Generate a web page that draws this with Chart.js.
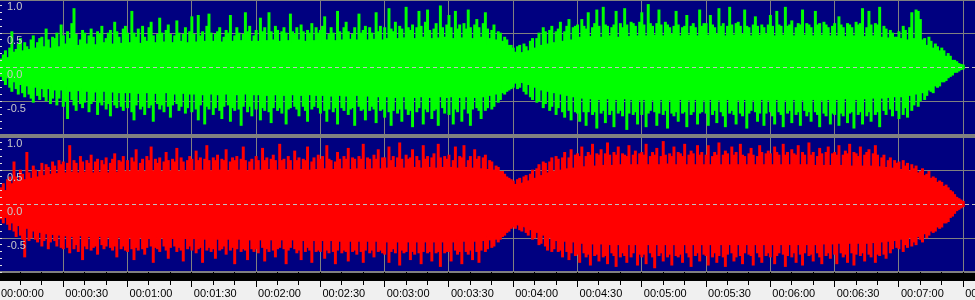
<!DOCTYPE html>
<html>
<head>
<meta charset="utf-8">
<script src="https://cdn.jsdelivr.net/npm/chart.js@4.4.1/dist/chart.umd.min.js"></script>
<style>
  html, body { margin: 0; padding: 0; background: #808080; overflow: hidden; }
  body { position: relative; width: 975px; height: 300px; }
  canvas { position: absolute; left: -1px; }
  #top { top: -1px; }
  #bottom { top: 136px; background: #f0f0f0; }
  #sep { position: absolute; left: 0; top: 134px; width: 975px; height: 4px; background: #808080; }
</style>
</head>
<body>
<canvas id="top" width="976" height="136"></canvas>
<canvas id="bottom" width="976" height="164"></canvas>
<div id="sep"></div>
<script>
const timeLabels = ["00:00:00", "00:00:30", "00:01:00", "00:01:30", "00:02:00", "00:02:30", "00:03:00", "00:03:30",
    "00:04:00", "00:04:30", "00:05:00", "00:05:30", "00:06:00", "00:06:30", "00:07:00", "00:07:30"];
const levelValues = [1, 0.5, 0, -0.5];
const levelLabels = ["1.0", "0.5", "0.0", "-0.5"];

const coreStep = 10; // seconds between envelope readings
const peakStep = 1;  // seconds between peak readings

// solid body of each channel, % of full scale, every 10 s
const greenCoreHi = [3, 17, 23, 27, 29, 31, 31, 33, 31, 33, 33, 35, 35, 35, 35, 35, 37, 37, 39, 39, 39, 39, 37, 31, 18,
    25, 33, 37, 41, 41, 43, 43, 41, 41, 43, 43, 43, 41, 41, 41, 39, 37, 37, 28, 15, 2];
const greenCoreLo = [3, 19, 25, 29, 31, 33, 33, 35, 35, 35, 35, 37, 37, 37, 37, 37, 39, 39, 41, 41, 41, 41, 39, 33, 20,
    27, 35, 39, 43, 43, 45, 45, 43, 43, 45, 45, 45, 43, 43, 43, 41, 39, 37, 28, 15, 2];
const redCoreHi = [12, 31, 36, 40, 42, 44, 46, 46, 46, 48, 48, 48, 48, 48, 48, 50, 50, 50, 52, 52, 52, 52, 50, 44, 27,
    36, 46, 50, 54, 54, 56, 56, 54, 54, 56, 56, 56, 54, 54, 54, 52, 50, 44, 36, 22, 3];
const redCoreLo = [12, 32, 38, 42, 44, 46, 46, 48, 48, 48, 50, 50, 50, 50, 50, 50, 52, 52, 52, 54, 54, 52, 50, 46, 29,
    38, 48, 52, 54, 56, 56, 56, 56, 54, 56, 56, 56, 56, 54, 54, 52, 50, 46, 36, 22, 3];

// peak above / below zero for each second, % of full scale (one line = 30 s)
const greenPeakHi = [
    6, 12, 18, 24, 14, 28, 52, 22, 26, 34, 42, 24, 36, 30, 26, 40, 46, 28, 36, 42, 44, 30, 56, 40, 28, 44, 42, 50, 30, 62,
    46, 34, 52, 42, 64, 86, 48, 32, 40, 54, 50, 34, 46, 56, 44, 33, 52, 48, 60, 36, 42, 50, 54, 34, 66, 52, 44, 35, 56, 60,
    50, 36, 82, 50, 44, 56, 35, 60, 44, 38, 58, 66, 46, 36, 48, 72, 50, 37, 54, 62, 48, 36, 46, 68, 50, 38, 48, 58, 36, 52,
    74, 48, 37, 76, 46, 52, 38, 60, 78, 50, 38, 48, 52, 58, 37, 44, 54, 50, 76, 38, 46, 58, 50, 39, 48, 80, 52, 60, 38, 46,
    54, 38, 72, 52, 58, 39, 80, 52, 40, 60, 54, 38, 52, 58, 50, 39, 78, 52, 48, 58, 40, 62, 52, 38, 54, 50, 64, 39, 58, 50,
    54, 60, 74, 40, 48, 58, 50, 39, 82, 52, 40, 58, 66, 52, 41, 48, 58, 40, 78, 50, 54, 60, 40, 58, 50, 41, 80, 52, 60, 40,
    58, 42, 86, 56, 52, 66, 42, 60, 56, 43, 88, 58, 54, 62, 42, 58, 82, 60, 44, 66, 84, 54, 42, 56, 64, 43, 90, 58, 44, 62,
    76, 58, 42, 82, 56, 62, 43, 64, 56, 84, 58, 42, 62, 70, 58, 44, 64, 80, 56, 42, 54, 62, 40, 52, 50, 38, 44, 40, 32, 32,
    28, 22, 30, 32, 21, 34, 30, 24, 38, 42, 28, 42, 50, 32, 58, 52, 34, 54, 60, 36, 52, 56, 66, 38, 52, 60, 70, 40, 58, 60,
    62, 44, 70, 60, 56, 80, 45, 58, 64, 84, 60, 44, 88, 62, 60, 46, 58, 62, 82, 44, 64, 58, 86, 62, 45, 66, 64, 60, 46, 66,
    80, 62, 46, 92, 64, 60, 47, 64, 84, 62, 46, 66, 62, 58, 48, 60, 82, 62, 46, 58, 60, 76, 47, 60, 64, 58, 46, 84, 60, 64,
    64, 47, 76, 62, 58, 48, 86, 60, 64, 46, 60, 88, 62, 47, 64, 66, 60, 48, 84, 60, 58, 46, 62, 74, 60, 47, 62, 58, 48, 62,
    76, 60, 46, 82, 62, 60, 47, 88, 60, 62, 68, 46, 58, 64, 62, 84, 47, 64, 62, 58, 46, 82, 62, 64, 47, 66, 62, 58, 46, 60,
    64, 46, 74, 62, 58, 45, 64, 62, 58, 46, 66, 62, 64, 86, 45, 58, 82, 62, 46, 64, 62, 88, 44, 60, 56, 43, 54, 50, 44, 44,
    52, 42, 60, 54, 40, 58, 80, 42, 84, 82, 70, 40, 42, 32, 44, 38, 28, 34, 30, 24, 28, 24, 16, 20, 16, 10, 10, 8, 5, 4,
    3];
const greenPeakLo = [
    6, 14, 20, 26, 16, 30, 36, 22, 32, 40, 26, 38, 44, 28, 40, 46, 52, 30, 42, 48, 32, 44, 50, 32, 54, 46, 34, 56, 46, 34,
    58, 50, 76, 36, 48, 56, 64, 35, 54, 60, 52, 36, 66, 54, 50, 37, 70, 52, 56, 36, 62, 54, 72, 37, 56, 60, 38, 58, 64, 38,
    60, 38, 66, 78, 56, 39, 62, 58, 70, 38, 60, 56, 80, 39, 54, 62, 56, 66, 38, 58, 74, 56, 40, 54, 64, 58, 39, 68, 60, 40,
    66, 40, 62, 78, 56, 41, 84, 58, 62, 40, 70, 60, 41, 64, 76, 58, 40, 56, 80, 60, 64, 41, 62, 86, 58, 40, 66, 58, 72, 41,
    62, 41, 78, 60, 64, 42, 66, 82, 60, 41, 64, 60, 68, 42, 84, 62, 60, 41, 58, 62, 72, 42, 58, 64, 80, 41, 62, 58, 42, 60,
    68, 42, 64, 80, 62, 43, 66, 60, 84, 42, 60, 64, 43, 70, 62, 60, 86, 42, 58, 64, 62, 78, 43, 64, 58, 62, 82, 44, 64, 62,
    74, 44, 66, 86, 64, 45, 68, 62, 80, 44, 62, 70, 64, 88, 45, 66, 60, 44, 84, 62, 66, 45, 76, 64, 62, 86, 44, 60, 68, 45,
    70, 44, 84, 62, 66, 45, 80, 62, 44, 68, 86, 62, 45, 60, 64, 76, 44, 64, 60, 42, 62, 58, 40, 52, 48, 38, 40, 36, 34, 32,
    30, 24, 32, 30, 22, 36, 40, 26, 44, 48, 30, 52, 50, 34, 60, 54, 36, 64, 58, 38, 70, 60, 40, 66, 74, 42, 64, 78, 44, 66,
    68, 80, 46, 66, 86, 66, 47, 70, 66, 90, 48, 68, 64, 82, 47, 70, 64, 88, 48, 68, 64, 72, 47, 92, 68, 48, 70, 66, 84, 49,
    70, 48, 88, 68, 64, 49, 66, 86, 68, 48, 70, 64, 90, 49, 68, 72, 66, 80, 48, 68, 66, 88, 49, 70, 66, 48, 84, 68, 66, 49,
    68, 86, 48, 70, 64, 82, 49, 66, 72, 88, 48, 68, 64, 70, 84, 49, 68, 72, 48, 90, 68, 64, 49, 66, 80, 68, 48, 86, 68, 49,
    66, 72, 84, 48, 66, 70, 88, 49, 68, 64, 82, 48, 70, 66, 86, 49, 64, 72, 66, 80, 48, 66, 70, 88, 49, 68, 72, 48, 84, 68,
    70, 48, 86, 68, 72, 47, 82, 68, 66, 90, 48, 70, 66, 84, 47, 72, 66, 80, 46, 70, 66, 88, 46, 64, 70, 45, 62, 72, 44, 64,
    76, 44, 70, 60, 74, 42, 64, 56, 40, 58, 50, 38, 48, 42, 34, 36, 38, 28, 30, 28, 22, 22, 20, 16, 14, 12, 8, 8, 6, 4,
    3];
const redPeakHi = [
    18, 24, 30, 20, 36, 40, 30, 62, 40, 34, 50, 44, 36, 76, 46, 38, 56, 50, 40, 48, 60, 42, 58, 54, 44, 62, 56, 45, 64, 58,
    62, 46, 60, 86, 47, 64, 60, 46, 70, 62, 47, 64, 60, 72, 46, 62, 66, 47, 64, 58, 68, 46, 60, 66, 74, 47, 64, 62, 70, 48,
    64, 48, 68, 62, 80, 49, 60, 66, 48, 70, 64, 84, 49, 66, 60, 68, 48, 62, 76, 64, 49, 66, 62, 82, 48, 68, 62, 49, 64, 70,
    66, 49, 78, 64, 68, 50, 66, 86, 64, 49, 68, 64, 72, 50, 66, 64, 80, 49, 62, 68, 64, 70, 50, 66, 84, 64, 49, 62, 66, 50,
    70, 64, 50, 82, 64, 68, 51, 66, 72, 64, 50, 88, 64, 66, 51, 70, 64, 50, 78, 64, 68, 51, 66, 64, 84, 50, 62, 68, 51, 72,
    66, 70, 52, 86, 66, 64, 51, 62, 76, 66, 52, 70, 66, 82, 51, 68, 66, 52, 70, 66, 88, 51, 68, 66, 52, 72, 66, 80, 51, 68,
    68, 53, 84, 64, 70, 54, 68, 90, 66, 53, 72, 66, 68, 80, 54, 70, 64, 53, 86, 66, 70, 54, 68, 74, 53, 88, 68, 54, 70, 66,
    72, 54, 64, 84, 53, 70, 68, 86, 54, 64, 70, 53, 80, 66, 70, 52, 68, 72, 51, 64, 62, 50, 56, 54, 48, 48, 44, 40, 38, 36,
    34, 29, 36, 38, 30, 40, 42, 34, 44, 50, 38, 52, 58, 42, 62, 60, 46, 62, 68, 48, 70, 66, 50, 68, 76, 52, 68, 80, 53, 72,
    74, 70, 84, 55, 70, 76, 72, 88, 56, 74, 72, 80, 57, 74, 90, 72, 57, 76, 72, 84, 58, 74, 72, 70, 86, 58, 72, 78, 58, 74,
    76, 72, 88, 58, 70, 76, 72, 82, 58, 70, 92, 72, 59, 74, 70, 84, 58, 76, 74, 70, 88, 58, 72, 78, 74, 58, 86, 72, 76, 58,
    72, 86, 58, 70, 76, 72, 90, 58, 72, 78, 74, 58, 84, 72, 76, 58, 88, 72, 70, 58, 74, 82, 72, 58, 70, 86, 76, 58, 74, 78,
    74, 58, 84, 76, 72, 58, 88, 72, 76, 58, 80, 74, 72, 86, 58, 76, 72, 58, 90, 72, 76, 57, 70, 82, 74, 57, 76, 84, 57, 74,
    76, 72, 86, 57, 72, 78, 74, 88, 56, 76, 74, 70, 84, 56, 72, 76, 80, 56, 74, 86, 72, 55, 68, 72, 54, 64, 68, 53, 64, 60,
    62, 51, 64, 56, 60, 49, 58, 52, 56, 46, 48, 52, 42, 44, 48, 38, 40, 38, 32, 34, 32, 26, 28, 24, 20, 18, 14, 10, 8, 6,
    4];
const redPeakLo = [
    16, 22, 28, 20, 30, 38, 28, 40, 48, 32, 46, 52, 78, 36, 54, 50, 40, 52, 56, 42, 62, 54, 44, 66, 56, 45, 54, 62, 46, 64,
    66, 47, 64, 72, 48, 66, 60, 70, 47, 82, 62, 66, 48, 68, 64, 62, 74, 48, 60, 66, 62, 49, 64, 68, 62, 78, 49, 66, 62, 68,
    70, 50, 66, 82, 64, 68, 50, 66, 74, 64, 51, 62, 86, 64, 66, 70, 50, 62, 68, 80, 64, 51, 62, 70, 64, 68, 84, 51, 66, 62,
    68, 51, 72, 66, 64, 86, 52, 68, 64, 70, 66, 80, 52, 68, 66, 62, 74, 52, 68, 64, 88, 66, 52, 70, 66, 68, 82, 53, 66, 70,
    66, 72, 53, 64, 84, 66, 70, 53, 68, 78, 66, 64, 53, 66, 88, 68, 64, 53, 66, 72, 68, 82, 54, 70, 64, 68, 86, 54, 70, 68,
    70, 54, 80, 68, 72, 54, 70, 88, 68, 55, 72, 68, 70, 84, 55, 70, 68, 74, 55, 70, 86, 68, 55, 72, 68, 78, 55, 70, 68, 72,
    74, 56, 86, 70, 66, 72, 56, 90, 68, 72, 70, 56, 82, 70, 74, 56, 72, 88, 70, 56, 72, 70, 84, 56, 72, 70, 92, 56, 72, 70,
    70, 84, 56, 68, 74, 70, 88, 55, 70, 74, 68, 82, 55, 70, 86, 68, 54, 70, 66, 53, 64, 62, 52, 56, 52, 48, 46, 42, 40, 36,
    34, 36, 30, 38, 40, 32, 42, 46, 38, 52, 50, 42, 60, 58, 46, 62, 68, 50, 70, 66, 54, 70, 68, 78, 55, 70, 82, 72, 56, 76,
    74, 86, 58, 72, 78, 74, 90, 59, 76, 74, 84, 59, 78, 76, 88, 60, 72, 76, 92, 60, 78, 72, 76, 86, 60, 78, 72, 60, 90, 74,
    78, 74, 88, 60, 72, 78, 94, 60, 76, 72, 84, 60, 78, 74, 90, 60, 76, 78, 74, 86, 60, 72, 78, 92, 60, 76, 72, 84, 60, 74,
    76, 90, 60, 78, 72, 86, 76, 60, 78, 92, 74, 60, 72, 84, 78, 60, 76, 88, 72, 60, 74, 76, 90, 60, 72, 78, 86, 60, 76, 72,
    78, 60, 88, 76, 72, 60, 74, 92, 76, 60, 78, 72, 86, 60, 74, 90, 72, 60, 76, 74, 84, 60, 72, 78, 88, 59, 76, 72, 80, 59,
    74, 88, 58, 72, 78, 74, 86, 58, 72, 90, 74, 58, 76, 72, 84, 58, 74, 78, 57, 86, 74, 76, 56, 74, 80, 55, 72, 66, 54, 64,
    66, 52, 70, 60, 64, 50, 62, 56, 60, 48, 52, 56, 44, 50, 46, 40, 42, 40, 34, 36, 34, 28, 28, 26, 20, 18, 14, 10, 8, 6,
    4];

const NAVY = "#000080";
const GRID = "#808080";
const FONT = { family: "'Liberation Sans', Arial, sans-serif", size: 11 };

function noPadding(scale) {
    scale.paddingLeft = 0;
    scale.paddingRight = 0;
    scale.paddingTop = 0;
    scale.paddingBottom = 0;
}

const background = {
    id: "background",
    beforeDraw(chart) {
        const { ctx, chartArea: a } = chart;
        ctx.save();
        ctx.fillStyle = NAVY;
        ctx.fillRect(a.left, a.top, a.right - a.left, a.bottom - a.top);
        ctx.restore();
    }
};

// black strip between the lower channel and the time ruler
const rulerBand = {
    id: "rulerBand",
    afterDraw(chart) {
        const { ctx, chartArea: a } = chart;
        ctx.save();
        ctx.fillStyle = "#000000";
        ctx.fillRect(0, a.bottom + 1, chart.width, 8);
        ctx.restore();
    }
};

function levelLabel(v) {
    const k = levelValues.findIndex(l => Math.abs(l - v) < 1e-6);
    return k < 0 ? "" : levelLabels[k];
}

function buildChart(id, color, coreHi, coreLo, peakHi, peakLo, withRuler) {
    const datasets = [
        {
            type: "line",
            data: coreHi.map((v, i) => ({ x: i * coreStep, y: v / 100 })),
            fill: "origin", backgroundColor: color, borderColor: color, borderWidth: 1,
            pointRadius: 0, tension: 0
        },
        {
            type: "line",
            data: coreLo.map((v, i) => ({ x: i * coreStep, y: -v / 100 })),
            fill: "origin", backgroundColor: color, borderColor: color, borderWidth: 1,
            pointRadius: 0, tension: 0
        },
        {
            type: "bar",
            data: peakHi.map((v, i) => ({ x: i * peakStep, y: [-peakLo[i] / 100, v / 100] })),
            backgroundColor: color, borderWidth: 0, barThickness: 2.3, grouped: false
        }
    ];

    const scales = {
        x: {
            type: "linear", position: "bottom", min: 0, max: 455.5, offset: false, weight: 1,
            grid: { color: GRID, offset: false, drawTicks: withRuler, tickLength: 15, tickColor: "#000000" },
            border: { display: false },
            ticks: {
                display: withRuler, stepSize: 30, maxTicksLimit: 100, autoSkip: false, maxRotation: 0,
                includeBounds: false, align: "start", labelOffset: 2, padding: 0,
                color: "#000000", font: FONT,
                callback: v => timeLabels[Math.round(v / 30)]
            },
            afterFit: s => { noPadding(s); s.height = withRuler ? 28 : 0; }
        },
        y: {
            type: "linear", position: "left", min: -1, max: 1,
            grid: {
                drawTicks: false,
                color: c => c.tick.value === 0 ? "rgba(0,0,0,0)" : GRID,
                lineWidth: c => c.tick.value === 1 ? 3 : (c.tick.value === -1 ? 2 : 1)
            },
            border: { display: false },
            ticks: { display: false, stepSize: 0.5 },
            afterFit: s => { noPadding(s); s.width = 0; }
        },
        yl: {
            type: "linear", position: "left", min: -1, max: 1,
            grid: {
                z: 1, tickLength: -3, tickColor: "#e0e0e0",
                color: c => Math.abs(c.tick.value) < 1e-6 ? "#c0c0c0" : "rgba(0,0,0,0)"
            },
            border: { display: false, dash: [4, 3] },
            ticks: {
                z: 1, stepSize: 0.1, maxTicksLimit: 100, includeBounds: false, autoSkip: false,
                mirror: true, padding: 8, labelOffset: 8, color: "#c8c8c8", font: FONT,
                callback: v => levelLabel(v)
            },
            afterFit: s => { noPadding(s); s.width = 0; }
        }
    };

    if (withRuler) {
        scales.xm = {
            type: "linear", position: "bottom", min: 0, max: 455.5, offset: false, weight: 0,
            grid: { drawOnChartArea: false, offset: false, tickLength: 13, tickColor: "#000000" },
            border: { display: false },
            ticks: { display: false, stepSize: 10, maxTicksLimit: 100, includeBounds: false },
            afterFit: s => { noPadding(s); s.height = 0; }
        };
    }

    return new Chart(document.getElementById(id), {
        type: "line",
        data: { datasets },
        options: {
            responsive: false,
            animation: false,
            devicePixelRatio: 1,
            events: [],
            layout: { padding: 0 },
            plugins: { legend: { display: false }, tooltip: { enabled: false } },
            scales
        },
        plugins: withRuler ? [background, rulerBand] : [background]
    });
}

buildChart("top", "#00ff00", greenCoreHi, greenCoreLo, greenPeakHi, greenPeakLo, false);
buildChart("bottom", "#ff0000", redCoreHi, redCoreLo, redPeakHi, redPeakLo, true);
</script>
</body>
</html>
